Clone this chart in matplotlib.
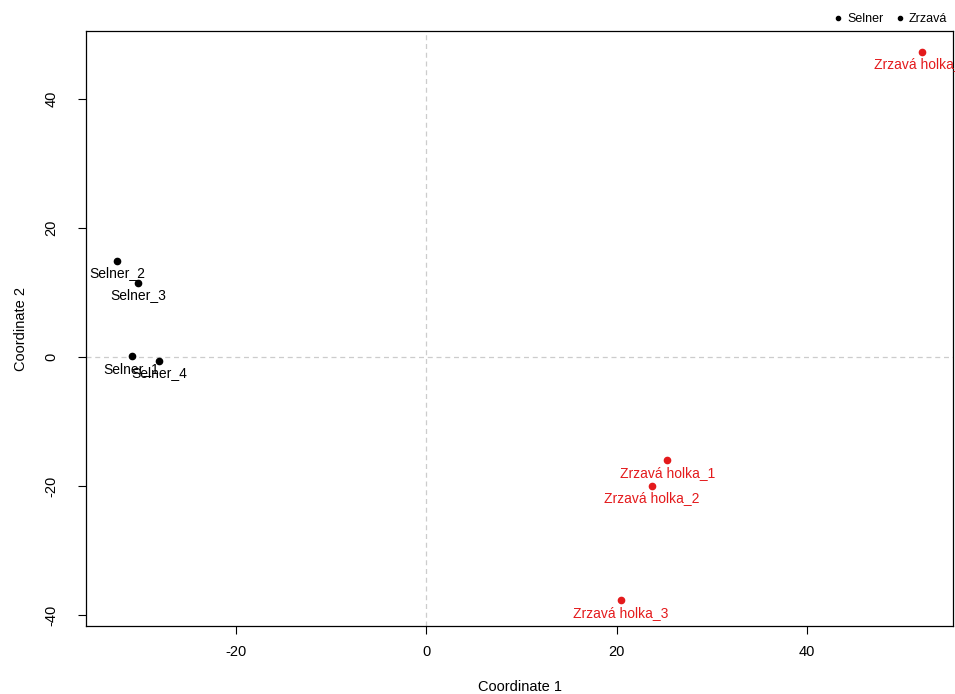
import matplotlib
matplotlib.use("Agg")
import matplotlib.pyplot as plt
from matplotlib.lines import Line2D

plt.rcParams["font.family"] = ["Liberation Sans", "DejaVu Sans"]
plt.rcParams["axes.unicode_minus"] = False

# MDS souřadnice vzorků
labels = ["Selner_1", "Selner_2", "Selner_3", "Selner_4",
          "Zrzavá holka_1", "Zrzavá holka_2", "Zrzavá holka_3", "Zrzavá holka_4"]
coord1 = [-30.9, -32.4, -30.2, -28.0, 25.3, 23.7, 20.4, 52.0]
coord2 = [0.15, 14.9, 11.5, -0.6, -16.0, -20.0, -37.7, 47.3]
groups = ["Selner"] * 4 + ["Zrzavá"] * 4
colors = {"Selner": "black", "Zrzavá": "#e41a1c"}
legend_labels = ["Selner", "Zrzavá"]

fig = plt.figure(figsize=(9.55, 6.94), dpi=100)
ax = fig.add_axes([0.090, 0.098, 0.908, 0.857])

ax.axhline(0, color="#cccccc", lw=0.9, ls=(0, (4, 3)), zorder=0)
ax.axvline(0, color="#cccccc", lw=0.9, ls=(0, (4, 3)), zorder=0)

for x, y, lab, g in zip(coord1, coord2, labels, groups):
    c = colors[g]
    ax.plot(x, y, "o", color=c, ms=4.5, mec=c)
    ax.annotate(lab, (x, y), xytext=(0, -9), textcoords="offset points",
                ha="center", va="center", color=c, fontsize=10, annotation_clip=False)

ax.set_xlim(-35.7, 55.3)
ax.set_ylim(-41.7, 50.5)
ax.set_xticks([-20, 0, 20, 40])
ax.set_yticks([-40, -20, 0, 20, 40])
ax.tick_params(direction="out", length=6, labelsize=10.5)
ax.tick_params(axis="x", pad=8)
ax.tick_params(axis="y", pad=14)
for t in ax.get_yticklabels():
    t.set_rotation(90)
    t.set_va("center")
ax.set_xlabel("Coordinate 1", fontsize=10.5, labelpad=15)
ax.set_ylabel("Coordinate 2", fontsize=10.5, labelpad=12)
for s in ax.spines.values():
    s.set_linewidth(0.9)

handles = [Line2D([], [], marker="o", ls="", color="black", ms=3) for _ in legend_labels]
ax.legend(handles, legend_labels, loc="lower right", bbox_to_anchor=(1.0, 1.0),
          ncol=2, frameon=False, fontsize=9, handletextpad=0.2, columnspacing=0.8,
          borderaxespad=0.1, handlelength=1.0)

fig.savefig("out.png", dpi=100)
